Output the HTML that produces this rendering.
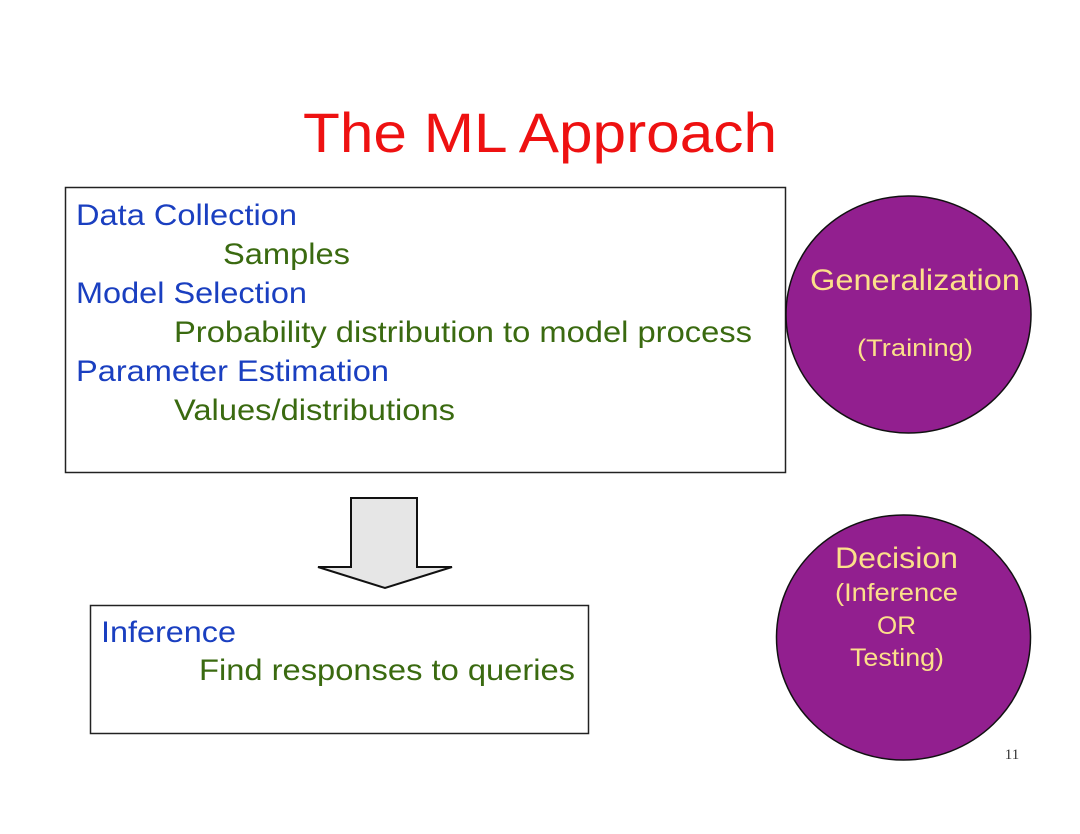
<!DOCTYPE html>
<html><head><meta charset="utf-8"><style>
html,body{margin:0;padding:0;background:#fff;}
svg{display:block;}
text{font-family:"Liberation Sans",Arial,sans-serif;}
</style></head><body>
<svg width="1080" height="834" viewBox="0 0 1080 834">
<rect width="1080" height="834" fill="#fff"/>
<text x="303" y="152" font-size="56" fill="#ee1111" textLength="474" lengthAdjust="spacingAndGlyphs">The ML Approach</text>
<rect x="65.5" y="187.5" width="720" height="285" fill="#fff" stroke="#222" stroke-width="1.5"/>
<g font-size="30">
<text x="76" y="225" fill="#1a3fc0" textLength="221" lengthAdjust="spacingAndGlyphs">Data Collection</text>
<text x="223" y="264" fill="#3a6a10" textLength="127" lengthAdjust="spacingAndGlyphs">Samples</text>
<text x="76" y="303" fill="#1a3fc0" textLength="231" lengthAdjust="spacingAndGlyphs">Model Selection</text>
<text x="174" y="342" fill="#3a6a10" textLength="578" lengthAdjust="spacingAndGlyphs">Probability distribution to model process</text>
<text x="76" y="381" fill="#1a3fc0" textLength="313" lengthAdjust="spacingAndGlyphs">Parameter Estimation</text>
<text x="174" y="420" fill="#3a6a10" textLength="281" lengthAdjust="spacingAndGlyphs">Values/distributions</text>
</g>
<polygon points="351,498 417,498 417,567 452,567 385,588 318,567 351,567" fill="#e6e6e6" stroke="#111" stroke-width="2"/>
<rect x="90.5" y="605.5" width="498" height="128" fill="#fff" stroke="#222" stroke-width="1.5"/>
<g font-size="30">
<text x="101" y="642" fill="#1a3fc0" textLength="135" lengthAdjust="spacingAndGlyphs">Inference</text>
<text x="199" y="680" fill="#3a6a10" textLength="376" lengthAdjust="spacingAndGlyphs">Find responses to queries</text>
</g>
<ellipse cx="908.5" cy="314.5" rx="122.5" ry="118.5" fill="#921f8f" stroke="#111" stroke-width="1.5"/>
<text x="810" y="290" font-size="30" fill="#fce08a" textLength="210" lengthAdjust="spacingAndGlyphs">Generalization</text>
<text x="857" y="356" font-size="24" fill="#fce08a" textLength="116" lengthAdjust="spacingAndGlyphs">(Training)</text>
<ellipse cx="903.5" cy="637.5" rx="127" ry="122.5" fill="#921f8f" stroke="#111" stroke-width="1.5"/>
<text x="835" y="568" font-size="30" fill="#fce08a" textLength="123" lengthAdjust="spacingAndGlyphs">Decision</text>
<text x="835" y="601" font-size="25" fill="#fce08a" textLength="123" lengthAdjust="spacingAndGlyphs">(Inference</text>
<text x="877" y="634" font-size="25" fill="#fce08a" textLength="39" lengthAdjust="spacingAndGlyphs">OR</text>
<text x="850" y="666" font-size="25" fill="#fce08a" textLength="94" lengthAdjust="spacingAndGlyphs">Testing)</text>
<text x="1012" y="759" text-anchor="middle" font-size="15" fill="#333" style="font-family:'Liberation Serif',serif">11</text>
</svg>
</body></html>
